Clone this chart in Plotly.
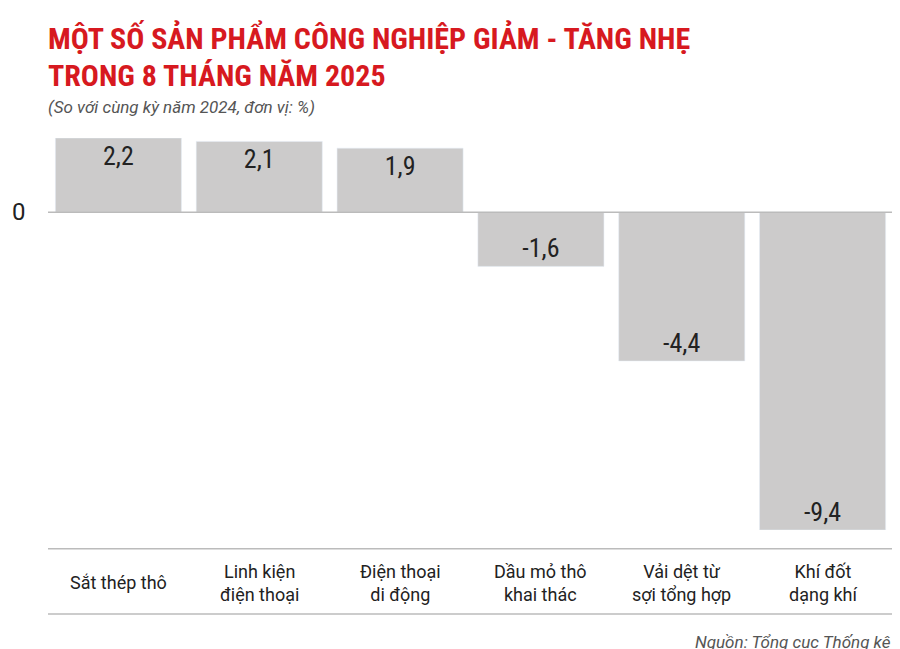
import plotly.graph_objects as go

categories = ["Sắt thép thô", "Linh kiện<br>điện thoại", "Điện thoại<br>di động",
              "Dầu mỏ thô<br>khai thác", "Vải dệt từ<br>sợi tổng hợp", "Khí đốt<br>dạng khí"]
values = [2.2, 2.1, 1.9, -1.6, -4.4, -9.4]
labels = [f"{v:.1f}".replace(".", ",") for v in values]

fig = go.Figure()
fig.add_trace(go.Bar(
    x=list(range(len(values))), y=values, text=labels,
    textposition="inside", insidetextanchor="end",
    textfont=dict(family="Roboto Condensed, Roboto", size=26, color="#222"),
    marker=dict(color="#cccbcb"), cliponaxis=False, hoverinfo="skip",
))

# category labels under the chart
for i, c in enumerate(categories):
    fig.add_annotation(x=i, y=-0.135, xref="x", yref="paper", text=c, showarrow=False,
                       font=dict(family="Roboto", size=18, color="#222"), yanchor="middle")

red = "#d71920"
fig.add_annotation(x=-0.045, xref="paper", y=0, yref="y", text="0", showarrow=False,
                   xanchor="left", font=dict(family="Roboto", size=24, color="#222"))

title_font = dict(family="Roboto Condensed, Roboto", size=30, color=red)
fig.update_layout(
    width=900, height=649,
    margin=dict(l=40, r=15, t=130, b=127, autoexpand=False),
    plot_bgcolor="white", paper_bgcolor="white",
    bargap=0.105, showlegend=False,
    xaxis=dict(visible=False, range=[-0.5, 5.5]),
    yaxis=dict(visible=False, range=[-9.4, 2.2]),
    shapes=[
        dict(type="line", xref="paper", yref="y", x0=0, x1=1, y0=0, y1=0,
             line=dict(color="#bbb", width=1.5)),
        dict(type="line", xref="paper", yref="paper", x0=0, x1=1, y0=-0.048, y1=-0.048,
             line=dict(color="#bbb", width=1.5)),
        dict(type="line", xref="paper", yref="paper", x0=0, x1=1, y0=-0.214, y1=-0.214,
             line=dict(color="#bbb", width=1.5)),
    ],
    annotations=list(fig.layout.annotations) + [
        dict(x=-0.002, y=1.255, xref="paper", yref="paper", xanchor="left", yanchor="middle",
             showarrow=False, text="<b>MỘT SỐ SẢN PHẨM CÔNG NGHIỆP GIẢM - TĂNG NHẸ</b>",
             font=title_font),
        dict(x=-0.002, y=1.16, xref="paper", yref="paper", xanchor="left", yanchor="middle",
             showarrow=False, text="<b>TRONG 8 THÁNG NĂM 2025</b>", font=title_font),
        dict(x=-0.002, y=1.08, xref="paper", yref="paper", xanchor="left", yanchor="middle",
             showarrow=False, text="<i>(So với cùng kỳ năm 2024, đơn vị: %)</i>",
             font=dict(family="Roboto", size=17, color="#555")),
        dict(x=1, y=-0.285, xref="paper", yref="paper", xanchor="right", yanchor="middle",
             showarrow=False, text="<i>Nguồn: Tổng cục Thống kê</i>",
             font=dict(family="Roboto", size=17, color="#555")),
    ],
)
fig.write_html("out.html")
